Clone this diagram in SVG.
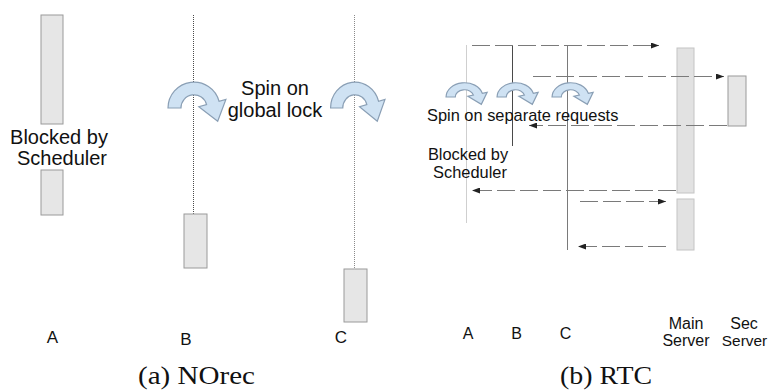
<svg xmlns="http://www.w3.org/2000/svg" xmlns:xlink="http://www.w3.org/1999/xlink" width="768" height="392" viewBox="0 0 768 392">
  <style>
    .lbl { font-family: "Liberation Sans", Arial, sans-serif; fill: #111; }
    .big { font-size: 20px; }
    .mid { font-size: 16.4px; }
    .tag { font-size: 17px; }
    .tag2 { font-size: 16px; }
    .cap { font-family: "Liberation Serif", "Times New Roman", serif; font-size: 26px; fill: #111; }
    .box { fill: #e6e6e6; stroke: #9a9a9a; stroke-width: 1; }
    .srv { fill: #e2e2e2; stroke: #c4c4c4; stroke-width: 1; }
    .life { stroke: #4a4a4a; stroke-width: 1; stroke-dasharray: 1 1; fill: none; }
    .life2 { stroke: #8a8a8a; stroke-width: 1; stroke-dasharray: 1 1; fill: none; }
    .msg { stroke: #7a7a7a; stroke-width: 1; stroke-dasharray: 18 5; fill: none; }
    .spin { fill: #cfe2f3; stroke: #8a9fb5; stroke-width: 1.2; }
  </style>
  <defs>
    <!-- curved "spin" arrow, centred on its arc centre -->
    <path id="spinArrow" class="spin" vector-effect="non-scaling-stroke"
          d="M -26,0 A 26,26 0 0 1 25.1,-6.7 L 31.9,-8.5 L 23.7,13.3 L 4.8,-1.3 L 12.6,-3.4 A 13,13 0 0 0 -13,0 Z"/>
    <marker id="head" viewBox="0 0 8 6" refX="8" refY="3" markerWidth="8" markerHeight="6" markerUnits="userSpaceOnUse" orient="auto">
      <path d="M0,0 L8,3 L0,6 Z" fill="#222"/>
    </marker>
  </defs>

  <rect width="768" height="392" fill="#ffffff"/>

  <!-- ===== (a) NOrec ===== -->
  <g id="norec-a">
    <rect class="box" x="41" y="15" width="22" height="109"/>
    <rect class="box" x="41" y="170" width="22" height="45"/>
    <text class="lbl tag" x="52.5" y="343" text-anchor="middle">A</text>
  </g>
  <g id="norec-a-blocked">
    <text class="lbl big" x="59" y="143.5" text-anchor="middle">Blocked by</text>
    <text class="lbl big" x="62" y="165" text-anchor="middle">Scheduler</text>
  </g>

  <g id="norec-b">
    <line class="life" x1="193.5" y1="15" x2="193.5" y2="214"/>
    <use xlink:href="#spinArrow" href="#spinArrow" transform="translate(194,108)"/>
    <rect class="box" x="184" y="214" width="23" height="54"/>
    <text class="lbl tag" x="186" y="345" text-anchor="middle">B</text>
  </g>

  <g id="norec-c">
    <line class="life2" x1="354.5" y1="15" x2="354.5" y2="269"/>
    <use xlink:href="#spinArrow" href="#spinArrow" transform="translate(355,108) scale(0.94,1)"/>
    <rect class="box" x="344" y="269" width="23" height="53"/>
    <text class="lbl tag" x="341" y="343" text-anchor="middle">C</text>
  </g>

  <g id="norec-spin-label">
    <text class="lbl big" x="275" y="95" text-anchor="middle">Spin on</text>
    <text class="lbl big" x="275" y="117" text-anchor="middle">global lock</text>
  </g>

  <text class="cap" x="138" y="384" textLength="117" lengthAdjust="spacingAndGlyphs">(a) NOrec</text>

  <!-- ===== (b) RTC ===== -->
  <g id="rtc-a">
    <line stroke="#cfcfcf" stroke-width="1" x1="466.5" y1="45" x2="466.5" y2="223"/>
    <use xlink:href="#spinArrow" href="#spinArrow" transform="translate(464.5,97) scale(0.71,0.55)"/>
    <text class="lbl tag2" x="468" y="339" text-anchor="middle">A</text>
  </g>
  <g id="rtc-b">
    <line stroke="#4a4a4a" stroke-width="1" x1="512.5" y1="46" x2="512.5" y2="146"/>
    <use xlink:href="#spinArrow" href="#spinArrow" transform="translate(515.5,97) scale(0.71,0.55)"/>
    <text class="lbl tag2" x="516.5" y="339" text-anchor="middle">B</text>
  </g>
  <g id="rtc-c">
    <line stroke="#7a7a7a" stroke-width="1" x1="567.5" y1="45" x2="567.5" y2="250"/>
    <use xlink:href="#spinArrow" href="#spinArrow" transform="translate(570.5,97) scale(0.71,0.55)"/>
    <text class="lbl tag2" x="565.5" y="339" text-anchor="middle">C</text>
  </g>

  <g id="main-server">
    <rect class="srv" x="677" y="48" width="17" height="145"/>
    <rect class="srv" x="677" y="199" width="17" height="51"/>
    <text class="lbl tag2" x="686" y="329" text-anchor="middle">Main</text>
    <text class="lbl tag2" x="686" y="346" text-anchor="middle">Server</text>
  </g>
  <g id="sec-server">
    <rect class="box" x="728" y="76" width="18" height="50"/>
    <text class="lbl tag2" x="744" y="329" text-anchor="middle">Sec</text>
    <text class="lbl" font-size="15.4" x="744.5" y="346" text-anchor="middle">Server</text>
  </g>

  <g id="connectors">
    <line class="msg" x1="472" y1="45.5" x2="659" y2="45.5" marker-end="url(#head)"/>
    <line class="msg" x1="533" y1="76.5" x2="724" y2="76.5" marker-end="url(#head)"/>
    <line class="msg" x1="727" y1="125.5" x2="529" y2="125.5" marker-end="url(#head)"/>
    <line class="msg" x1="676" y1="190.5" x2="472" y2="190.5" marker-end="url(#head)"/>
    <line class="msg" x1="580" y1="201.5" x2="666" y2="201.5" marker-end="url(#head)"/>
    <line class="msg" x1="666" y1="246.5" x2="578" y2="246.5" marker-end="url(#head)"/>
  </g>

  <g id="rtc-labels">
    <text class="lbl mid" x="427" y="120.5">Spin on separate requests</text>
    <text class="lbl mid" x="468" y="159.5" text-anchor="middle">Blocked by</text>
    <text class="lbl mid" x="470" y="177.5" text-anchor="middle">Scheduler</text>
  </g>

  <text class="cap" x="560" y="384" textLength="92" lengthAdjust="spacingAndGlyphs">(b) RTC</text>
</svg>
